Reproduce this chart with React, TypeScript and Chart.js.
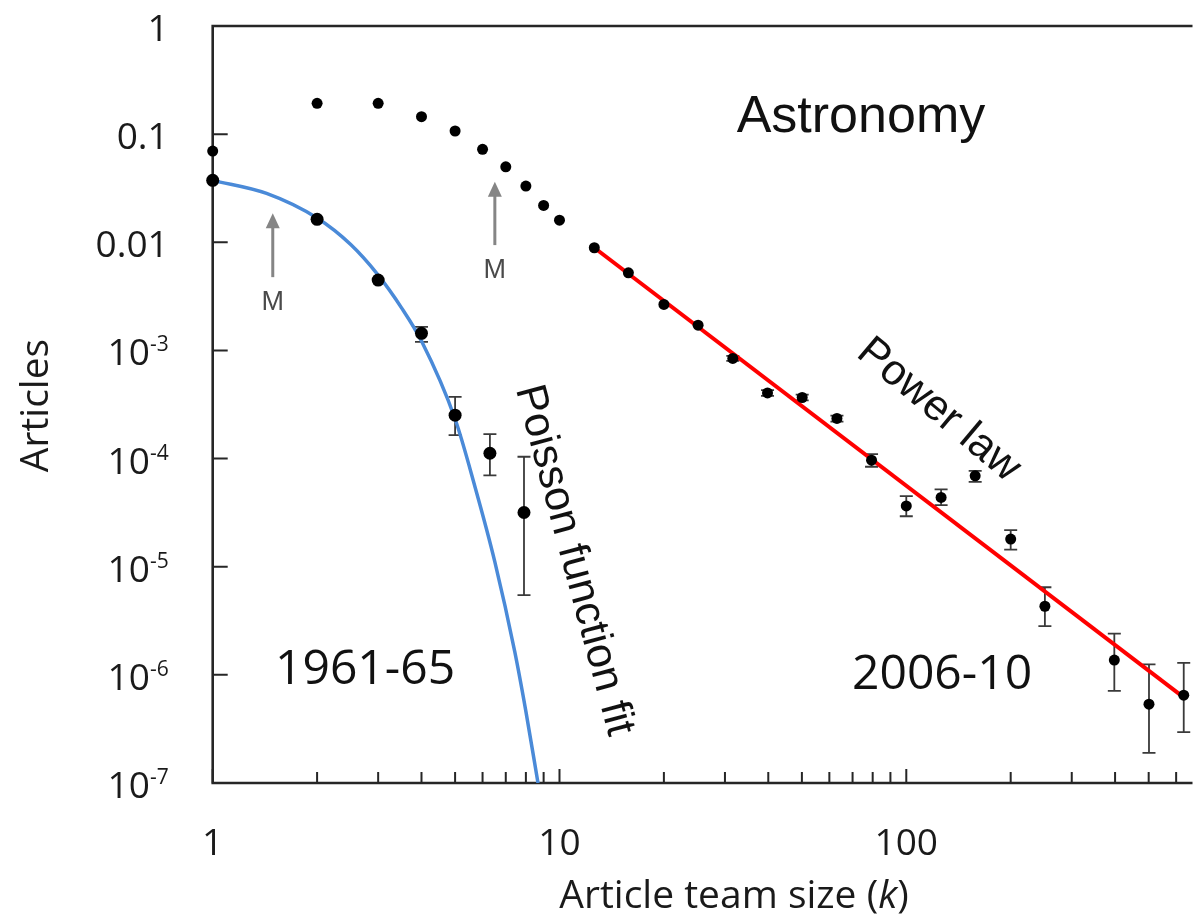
import React, { useEffect, useRef } from "react";
import { Chart, registerables } from "chart.js";

Chart.register(...registerables);

// ---------- data ----------
// 1961-65 series
const earlyK = [1, 2, 3, 4, 5, 6.3, 7.9];
const earlyY = [0.0374, 0.0163, 0.00447, 0.00144, 0.000252, 0.000112, 0.0000317];
const earlyErrHigh = [null, null, null, 0.00165, 0.000372, 0.000168, 0.000104];
const earlyErrLow = [null, null, null, 0.0012, 0.000165, 0.00007, 0.00000545];

// 2006-10 series
const lateK = [1, 2, 3, 4, 5, 6, 7, 8, 9, 10, 12.6, 15.8, 20, 25.1, 31.6, 39.8, 50.1, 63.1, 79.4, 100, 126, 158, 200, 251, 398, 501, 631];
const lateY = [0.0698, 0.1927, 0.1927, 0.1449, 0.1069, 0.0724, 0.0499, 0.0331, 0.0219, 0.016, 0.0089, 0.00522, 0.00266, 0.00171, 0.000843, 0.000405, 0.000367, 0.000235, 0.0000966, 0.0000365, 0.0000437, 0.0000692, 0.000018, 0.00000431, 0.00000137, 0.000000535, 0.000000648];
const lateErrHigh = [null, null, null, null, null, null, null, null, null, null, null, null, null, null, 0.00089, 0.00043, 0.00039, 0.00025, 0.00011, 0.0000449, 0.0000518, 0.0000769, 0.0000218, 0.00000646, 0.00000241, 0.00000125, 0.00000129];
const lateErrLow = [null, null, null, null, null, null, null, null, null, null, null, null, null, null, 0.0008, 0.00038, 0.000345, 0.00022, 0.000084, 0.0000293, 0.0000371, 0.0000608, 0.0000144, 0.00000282, 0.00000071, 0.00000019, 0.000000296];

// Poisson function fit (curve)
const poissonK = [1, 1.43, 2, 2.5, 3, 3.5, 4, 5, 5.71, 6.51, 7.43, 8, 8.67];
const poissonY = [0.0374, 0.0283, 0.01675, 0.00952, 0.00497, 0.00249, 0.00122, 0.000232, 0.0000544, 0.0000111, 0.00000164, 0.00000046, 0.0000001];

// Power-law fit line (end points)
const powerK = [12.6, 631];
const powerY = [0.0089, 0.00000062];

// axes
const X_MIN = 1;
const X_MAX = 660;
const Y_MIN = 1e-7;
const Y_MAX = 1;
const yTicks = [1, 0.1, 0.01, 1e-3, 1e-4, 1e-5, 1e-6, 1e-7];
const yTickLabels = ["1", "0.1", "0.01", "10^-3", "10^-4", "10^-5", "10^-6", "10^-7"];
const xMajorTicks = [1, 10, 100];
const xMajorLabels = ["1", "10", "100"];
const xMinorTicks = [2, 3, 4, 5, 6, 7, 8, 9, 20, 30, 40, 50, 60, 70, 80, 90, 200, 300, 400, 500, 600];

// annotations (data coordinates)
const arrowK = [1.49, 6.51];
const arrowTip = [0.0186, 0.0363];
const arrowTail = [0.00476, 0.00942];
const arrowLabelY = [0.00236, 0.00467];
const arrowLabel = "M";

const titleText = "Astronomy";
const titleK = 74;
const titleY = 0.1052;
const earlyLabel = "1961-65";
const earlyLabelK = 2.75;
const earlyLabelY = 8.18e-7;
const lateLabel = "2006-10";
const lateLabelK = 126.8;
const lateLabelY = 7.47e-7;
const powerLabel = "Power law";
const powerLabelK = 124;
const powerLabelY = 2.8e-4;
const poissonLabel = "Poisson function fit";
const poissonLabelK = 11.0;
const poissonLabelY = 1.15e-5;

const yTitle = "Articles";
const xTitleParts = ["Article team size (", "k", ")"];

const SANS = '"Open Sans", "Noto Sans", sans-serif';
const HELV = '"Liberation Sans", Arial, sans-serif';

function drawErrorBars(ctx: CanvasRenderingContext2D, xs: any, ys: any, ks: number[], hi: (number | null)[], lo: (number | null)[]) {
  ctx.save();
  ctx.strokeStyle = "#3a3a3a";
  ctx.lineWidth = 1.8;
  for (let i = 0; i < ks.length; i++) {
    const h = hi[i];
    const l = lo[i];
    if (h == null || l == null) continue;
    const x = xs.getPixelForValue(ks[i]);
    const y1 = ys.getPixelForValue(h);
    const y2 = ys.getPixelForValue(l);
    ctx.beginPath();
    ctx.moveTo(x, y1);
    ctx.lineTo(x, y2);
    ctx.moveTo(x - 6.5, y1);
    ctx.lineTo(x + 6.5, y1);
    ctx.moveTo(x - 6.5, y2);
    ctx.lineTo(x + 6.5, y2);
    ctx.stroke();
  }
  ctx.restore();
}

const decorPlugin = {
  id: "decor",
  beforeDatasetsDraw(chart: any) {
    const { ctx, chartArea } = chart;
    const xs = chart.scales.x;
    const ys = chart.scales.y;
    ctx.save();
    ctx.strokeStyle = "#262626";
    // tick marks
    ctx.lineWidth = 2;
    ctx.beginPath();
    for (const v of yTicks) {
      const y = ys.getPixelForValue(v);
      ctx.moveTo(chartArea.left, y);
      ctx.lineTo(chartArea.left + 15, y);
    }
    for (const v of xMinorTicks) {
      const x = xs.getPixelForValue(v);
      ctx.moveTo(x, chartArea.bottom);
      ctx.lineTo(x, chartArea.bottom - 11);
    }
    for (const v of xMajorTicks) {
      const x = xs.getPixelForValue(v);
      ctx.moveTo(x, chartArea.bottom);
      ctx.lineTo(x, chartArea.bottom - 14);
    }
    ctx.stroke();
    // axis lines
    ctx.lineWidth = 2.6;
    ctx.beginPath();
    ctx.moveTo(chartArea.right + 2, chartArea.top);
    ctx.lineTo(chartArea.left, chartArea.top);
    ctx.lineTo(chartArea.left, chartArea.bottom);
    ctx.lineTo(chartArea.right + 2, chartArea.bottom);
    ctx.stroke();
    ctx.restore();

    drawErrorBars(ctx, xs, ys, earlyK, earlyErrHigh, earlyErrLow);
    drawErrorBars(ctx, xs, ys, lateK, lateErrHigh, lateErrLow);
  },
  afterDatasetsDraw(chart: any) {
    const { ctx, chartArea } = chart;
    const xs = chart.scales.x;
    const ys = chart.scales.y;
    ctx.save();
    ctx.fillStyle = "#1a1a1a";

    // y tick labels
    const right = chartArea.left - 44;
    for (let i = 0; i < yTicks.length; i++) {
      const y = ys.getPixelForValue(yTicks[i]);
      const lab = yTickLabels[i];
      ctx.textAlign = "right";
      ctx.textBaseline = "alphabetic";
      if (lab.includes("^")) {
        const [base, exp] = lab.split("^");
        ctx.font = `21px ${SANS}`;
        const ew = ctx.measureText(exp).width;
        ctx.fillText(exp, right, y + 1);
        ctx.font = `37px ${SANS}`;
        ctx.fillText(base, right - ew, y + 15);
      } else {
        ctx.font = `37px ${SANS}`;
        ctx.fillText(lab, right, y + 15);
      }
    }
    // x tick labels
    ctx.font = `37px ${SANS}`;
    ctx.textAlign = "center";
    for (let i = 0; i < xMajorTicks.length; i++) {
      const x = xs.getPixelForValue(xMajorTicks[i]);
      ctx.fillText(xMajorLabels[i], x, chartArea.bottom + 72);
    }
    // x title
    const xt0 = `39px ${SANS}`;
    const xt1 = `italic 39px ${SANS}`;
    ctx.font = xt0;
    const w0 = ctx.measureText(xTitleParts[0]).width;
    const w2 = ctx.measureText(xTitleParts[2]).width;
    ctx.font = xt1;
    const w1 = ctx.measureText(xTitleParts[1]).width;
    const total = w0 + w1 + w2;
    const sx = 734 - total / 2;
    ctx.textAlign = "left";
    ctx.font = xt0;
    ctx.fillText(xTitleParts[0], sx, chartArea.bottom + 125);
    ctx.font = xt1;
    ctx.fillText(xTitleParts[1], sx + w0, chartArea.bottom + 125);
    ctx.font = xt0;
    ctx.fillText(xTitleParts[2], sx + w0 + w1, chartArea.bottom + 125);
    // y title
    ctx.save();
    ctx.translate(48, (chartArea.top + chartArea.bottom) / 2 + 1);
    ctx.rotate(-Math.PI / 2);
    ctx.textAlign = "center";
    ctx.font = `39px ${SANS}`;
    ctx.fillText(yTitle, 0, 0);
    ctx.restore();

    // series labels
    ctx.fillStyle = "#111";
    ctx.textAlign = "center";
    ctx.font = `48px ${SANS}`;
    ctx.fillText(earlyLabel, xs.getPixelForValue(earlyLabelK), ys.getPixelForValue(earlyLabelY));
    ctx.fillText(lateLabel, xs.getPixelForValue(lateLabelK), ys.getPixelForValue(lateLabelY));
    ctx.font = `52px ${HELV}`;
    ctx.fillText(titleText, xs.getPixelForValue(titleK), ys.getPixelForValue(titleY));

    // rotated labels
    ctx.font = `43px ${HELV}`;
    ctx.textBaseline = "middle";
    ctx.save();
    ctx.translate(xs.getPixelForValue(powerLabelK), ys.getPixelForValue(powerLabelY));
    ctx.rotate((40 * Math.PI) / 180);
    ctx.fillText(powerLabel, 0, 0);
    ctx.restore();
    ctx.save();
    ctx.translate(xs.getPixelForValue(poissonLabelK), ys.getPixelForValue(poissonLabelY));
    ctx.rotate((75 * Math.PI) / 180);
    ctx.fillText(poissonLabel, 0, 0);
    ctx.restore();

    // arrows
    for (let i = 0; i < arrowK.length; i++) {
      const x = xs.getPixelForValue(arrowK[i]);
      const yt = ys.getPixelForValue(arrowTip[i]);
      const yb = ys.getPixelForValue(arrowTail[i]);
      ctx.strokeStyle = "#858585";
      ctx.fillStyle = "#858585";
      ctx.lineWidth = 3;
      ctx.beginPath();
      ctx.moveTo(x, yb);
      ctx.lineTo(x, yt + 12);
      ctx.stroke();
      ctx.beginPath();
      ctx.moveTo(x, yt);
      ctx.lineTo(x - 7, yt + 15);
      ctx.lineTo(x + 7, yt + 15);
      ctx.closePath();
      ctx.fill();
      ctx.fillStyle = "#4a4a4a";
      ctx.font = `27px ${HELV}`;
      ctx.textAlign = "center";
      ctx.textBaseline = "alphabetic";
      ctx.fillText(arrowLabel, x, ys.getPixelForValue(arrowLabelY[i]));
    }
    ctx.restore();
  },
};

export default function App() {
  const ref = useRef<HTMLCanvasElement>(null);
  useEffect(() => {
    document.body.style.margin = "0";
    const canvas = ref.current;
    if (!canvas) return;
    const pts = (ks: number[], vs: number[]) => ks.map((k, i) => ({ x: k, y: vs[i] }));
    const chart = new Chart(canvas, {
      type: "scatter",
      data: {
        datasets: [
          {
            label: "2006-10",
            data: pts(lateK, lateY),
            showLine: false,
            pointRadius: 5.5,
            pointBackgroundColor: "#000",
            pointBorderColor: "#000",
            pointBorderWidth: 0,
            clip: false,
            order: 0,
          } as any,
          {
            label: "1961-65",
            data: pts(earlyK, earlyY),
            showLine: false,
            pointRadius: 6.5,
            pointBackgroundColor: "#000",
            pointBorderColor: "#000",
            pointBorderWidth: 0,
            clip: false,
            order: 0,
          } as any,
          {
            label: "Power law",
            data: pts(powerK, powerY),
            showLine: true,
            borderColor: "#ff0000",
            borderWidth: 4,
            pointRadius: 0,
            order: 1,
          } as any,
          {
            label: "Poisson function fit",
            data: pts(poissonK, poissonY),
            showLine: true,
            borderColor: "#4a8ad8",
            borderWidth: 3.5,
            pointRadius: 0,
            cubicInterpolationMode: "monotone",
            order: 1,
          } as any,
        ],
      },
      options: {
        animation: false,
        responsive: false,
        devicePixelRatio: 1,
        events: [],
        layout: { padding: { left: 212.7, right: 0, top: 26, bottom: 134 } },
        plugins: { legend: { display: false }, tooltip: { enabled: false } },
        scales: {
          x: { type: "logarithmic", min: X_MIN, max: X_MAX, display: false },
          y: { type: "logarithmic", min: Y_MIN, max: Y_MAX, display: false },
        },
      } as any,
      plugins: [decorPlugin],
    });
    return () => chart.destroy();
  }, []);
  return (
    <div style={{ position: "fixed", left: 0, top: 0, width: 1197, height: 917, background: "#fff" }}>
      <canvas ref={ref} width={1197} height={917} style={{ display: "block", width: 1197, height: 917 }} />
    </div>
  );
}
